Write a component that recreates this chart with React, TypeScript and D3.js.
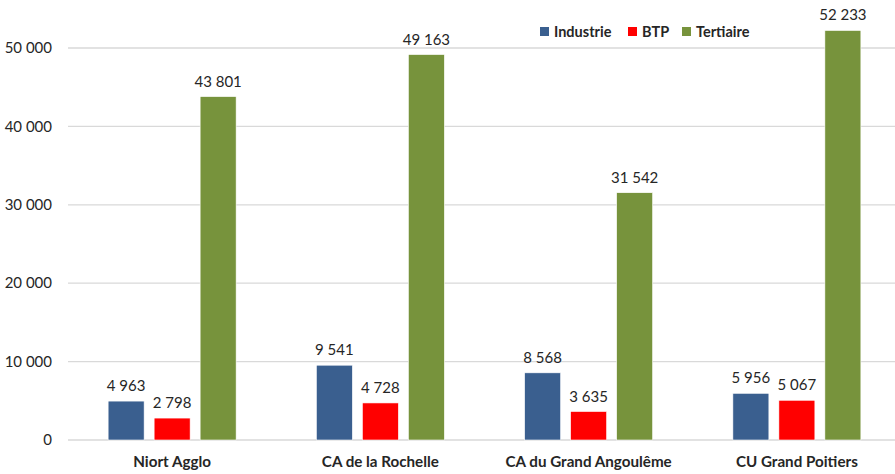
import React from "react";
import * as d3 from "d3";

const categories = ["Niort Agglo", "CA de la Rochelle", "CA du Grand Angoulême", "CU Grand Poitiers"];
const seriesNames = ["Industrie", "BTP", "Tertiaire"];
const industrie = [4963, 9541, 8568, 5956];
const btp = [2798, 4728, 3635, 5067];
const tertiaire = [43801, 49163, 31542, 52233];
const yTicks = [0, 10000, 20000, 30000, 40000, 50000];
const colors = ["#3A5F8F", "#FF0000", "#77933C"];

const W = 895;
const H = 474;
const FONT = "Lato, 'Liberation Sans', sans-serif";

const fmt = (v: number) => d3.format(",")(v).replace(/,/g, " ");

export default function App() {
  const seriesValues = [industrie, btp, tertiaire];
  const x0 = d3.scaleBand<string>().domain(categories).range([68, 901]).padding(0);
  const bw = x0.bandwidth();
  const x1 = d3
    .scaleBand<string>()
    .domain(seriesNames)
    .range([bw / 2 - 64, bw / 2 + 64])
    .paddingInner(10 / 46)
    .paddingOuter(0);
  const y = d3.scaleLinear().domain([0, 55000]).range([440, 8.8]);

  const legendItems = [
    { name: "Industrie", x: 540 },
    { name: "BTP", x: 628 },
    { name: "Tertiaire", x: 682 },
  ];

  return (
    <svg width={W} height={H} style={{ position: "absolute", left: 0, top: 0, background: "#fff" }} fontFamily={FONT}>
      <rect x={0} y={0} width={W} height={H} fill="#fff" />
      {yTicks.map((t) => (
        <g key={t}>
          <line x1={68} x2={W} y1={y(t)} y2={y(t)} stroke="#D9D9D9" strokeWidth={1.3} />
          <text x={52} y={y(t)} dy="0.35em" textAnchor="end" fontSize={15} fill="#262626">
            {fmt(t)}
          </text>
        </g>
      ))}
      {categories.map((c, ci) => (
        <g key={c} transform={`translate(${x0(c)},0)`}>
          {seriesNames.map((s, si) => {
            const v = seriesValues[si][ci];
            const bx = x1(s)!;
            return (
              <g key={s}>
                <rect
                  x={bx}
                  y={y(v)}
                  width={x1.bandwidth()}
                  height={y(0) - y(v)}
                  fill={colors[si]}
                  stroke="#fff"
                  strokeWidth={0.6}
                />
                <text
                  x={bx + x1.bandwidth() / 2}
                  y={y(v) - 10}
                  textAnchor="middle"
                  fontSize={15}
                  fill="#262626"
                >
                  {fmt(v)}
                </text>
              </g>
            );
          })}
          <text x={bw / 2} y={467} textAnchor="middle" fontSize={15.2} fontWeight="bold" fill="#262626">
            {c}
          </text>
        </g>
      ))}
      {legendItems.map((l, i) => (
        <g key={l.name}>
          <rect x={l.x} y={27} width={9} height={9} fill={colors[i]} />
          <text x={l.x + 14} y={32} dy="0.35em" fontSize={14.5} fontWeight="bold" fill="#262626">
            {l.name}
          </text>
        </g>
      ))}
    </svg>
  );
}
